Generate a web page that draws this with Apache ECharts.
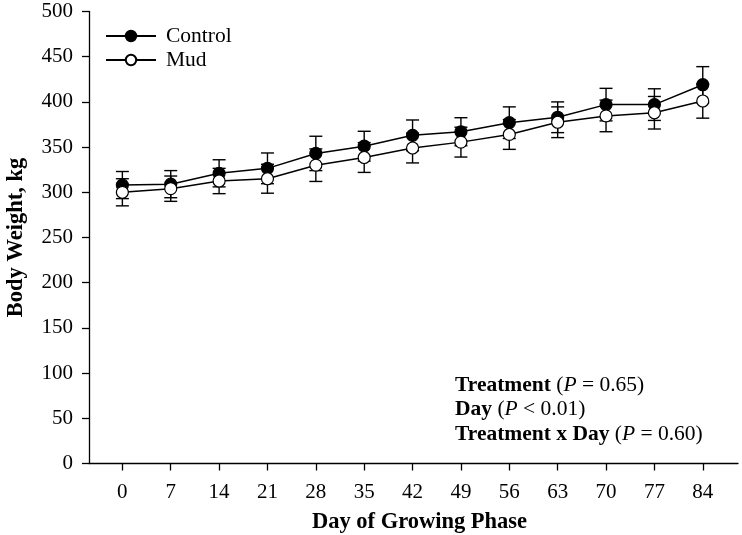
<!DOCTYPE html>
<html>
<head>
<meta charset="utf-8">
<script src="https://cdn.jsdelivr.net/npm/echarts@6/dist/echarts.min.js"></script>
<style>html,body{margin:0;padding:0;background:#fff;}#c{width:742px;height:535px;}</style>
</head>
<body>
<div id="c"></div>
<script>
var days = [0, 7, 14, 21, 28, 35, 42, 49, 56, 63, 70, 77, 84];
var controlMean = [308, 309, 321, 326.5, 343, 351, 363, 367, 377, 383, 397, 397, 419];
var controlErr  = [15, 15, 15, 17, 19, 16.5, 17, 15.5, 17.5, 17, 18, 17.5, 20];
var mudMean = [300, 304, 312.5, 315, 330, 338.5, 349, 355.5, 364, 377.5, 384.5, 388, 401];
var mudErr  = [15, 14, 14, 16, 18, 16.5, 16.5, 16.5, 16.5, 17, 17.5, 18, 19];
var yTicks = [0, 50, 100, 150, 200, 250, 300, 350, 400, 450, 500];

var FONT = 'Liberation Serif';

function pairs(x, y) { return x.map(function (d, i) { return [d, y[i]]; }); }
function errData(x, m, e) { return x.map(function (d, i) { return [d, m[i] - e[i], m[i] + e[i]]; }); }

function errRender(params, api) {
  var x = api.value(0);
  var lo = api.coord([x, api.value(1)]);
  var hi = api.coord([x, api.value(2)]);
  var hw = 6.5;
  var st = { stroke: '#000', lineWidth: 1.4 };
  return {
    type: 'group',
    children: [
      { type: 'line', shape: { x1: lo[0], y1: lo[1], x2: hi[0], y2: hi[1] }, style: st },
      { type: 'line', shape: { x1: lo[0] - hw, y1: lo[1], x2: lo[0] + hw, y2: lo[1] }, style: st },
      { type: 'line', shape: { x1: hi[0] - hw, y1: hi[1], x2: hi[0] + hw, y2: hi[1] }, style: st }
    ]
  };
}

var chart = echarts.init(document.getElementById('c'), null, { renderer: 'canvas' });
chart.setOption({
  animation: false,
  backgroundColor: '#fff',
  grid: { left: 89, top: 11.5, width: 649, height: 452, containLabel: false, outerBoundsMode: 'none' },
  legend: {
    data: ['Control', 'Mud'],
    orient: 'vertical',
    left: 105,
    top: 25,
    padding: 0,
    itemWidth: 50,
    itemHeight: 13,
    itemGap: 2,
    textStyle: { fontFamily: FONT, fontSize: 21.5, color: '#000', padding: [0, 0, 0, 5] }
  },
  xAxis: {
    type: 'value',
    min: -4.83,
    max: 89.1,
    name: 'Day of Growing Phase',
    nameLocation: 'middle',
    nameGap: 47,
    nameTextStyle: { fontFamily: FONT, fontSize: 22.5, fontWeight: 'bold', color: '#000', padding: [0, 0, 0, 12] },
    axisLine: { show: true, onZero: false, lineStyle: { color: '#000', width: 1.3 } },
    axisTick: { show: true, inside: false, length: 7, customValues: days, lineStyle: { color: '#000', width: 1.3 } },
    axisLabel: { customValues: days, margin: 18, fontFamily: FONT, fontSize: 21, color: '#000' },
    splitLine: { show: false }
  },
  yAxis: {
    type: 'value',
    min: 0,
    max: 500,
    interval: 50,
    name: 'Body Weight, kg',
    nameLocation: 'middle',
    nameGap: 61,
    nameTextStyle: { fontFamily: FONT, fontSize: 22.5, fontWeight: 'bold', color: '#000' },
    axisLine: { show: true, onZero: false, lineStyle: { color: '#000', width: 1.3 } },
    axisTick: { show: true, inside: false, length: 7, lineStyle: { color: '#000', width: 1.3 } },
    axisLabel: { margin: 16, fontFamily: FONT, fontSize: 21, color: '#000',
      formatter: function (v) { return yTicks.indexOf(v) >= 0 ? String(v) : ''; } },
    splitLine: { show: false }
  },
  graphic: [{
    type: 'text',
    left: 455,
    top: 373,
    style: {
      text: '{b|Treatment} ({i|P} = 0.65)\n{b|Day} ({i|P} < 0.01)\n{b|Treatment x Day} ({i|P} = 0.60)',
      fontFamily: FONT,
      fontSize: 21.5,
      lineHeight: 24.5,
      fill: '#000',
      rich: {
        b: { fontFamily: FONT, fontSize: 21.5, fontWeight: 'bold', lineHeight: 24.5 },
        i: { fontFamily: FONT, fontSize: 21.5, fontStyle: 'italic', lineHeight: 24.5 }
      }
    }
  }],
  series: [
    {
      name: 'ControlErr', type: 'custom', renderItem: errRender, z: 1,
      data: errData(days, controlMean, controlErr), silent: true
    },
    {
      name: 'MudErr', type: 'custom', renderItem: errRender, z: 1,
      data: errData(days, mudMean, mudErr), silent: true
    },
    {
      name: 'Control', type: 'line', z: 3,
      data: pairs(days, controlMean),
      symbol: 'circle', symbolSize: 12,
      itemStyle: { color: '#000', borderColor: '#000', borderWidth: 1.2 },
      lineStyle: { color: '#000', width: 1.5 }
    },
    {
      name: 'Mud', type: 'line', z: 4,
      data: pairs(days, mudMean),
      symbol: 'circle', symbolSize: 12,
      itemStyle: { color: '#fff', borderColor: '#000', borderWidth: 1.2 },
      lineStyle: { color: '#000', width: 1.5 }
    }
  ]
});
</script>
</body>
</html>
